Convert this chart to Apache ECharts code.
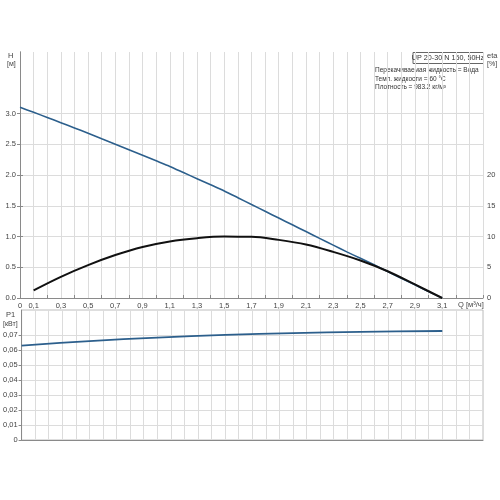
<!DOCTYPE html>
<html>
<head>
<meta charset="utf-8">
<script src="https://cdn.jsdelivr.net/npm/echarts@6/dist/echarts.min.js"></script>
<style>html,body{margin:0;padding:0;background:#fff}#c{width:500px;height:500px}</style>
</head>
<body>
<div id="c"></div>
<script>
// Flow Q [m³/h] for the head curve
const qH = [0, 0.1, 0.2, 0.3, 0.4, 0.5, 0.6, 0.7, 0.8, 0.9, 1.0, 1.1, 1.2, 1.3, 1.4, 1.5,
            1.6, 1.7, 1.8, 1.9, 2.0, 2.1, 2.2, 2.3, 2.4, 2.5, 2.6, 2.7, 2.8, 2.9, 3.0, 3.1];
// Head H [m]
const hVals = [3.10, 3.02, 2.935, 2.85, 2.765, 2.68, 2.59, 2.50, 2.41, 2.32, 2.23, 2.14, 2.04, 1.94, 1.84, 1.74,
               1.63, 1.52, 1.41, 1.30, 1.19, 1.08, 0.97, 0.86, 0.75, 0.645, 0.54, 0.43, 0.32, 0.215, 0.105, 0.0];

// Flow Q [m³/h] for the efficiency curve
const qEta = [0.1, 0.3, 0.5, 0.7, 0.9, 1.1, 1.3, 1.5, 1.7, 1.9, 2.1, 2.3, 2.5, 2.7, 2.9, 3.1];
// Efficiency eta [%]
const etaVals = [1.25, 3.45, 5.35, 6.98, 8.3, 9.2, 9.72, 9.98, 9.96, 9.45, 8.7, 7.5, 6.1, 4.35, 2.2, 0.0];

// Flow Q [m³/h] for the power curve
const qP = [0, 0.5, 1.0, 1.5, 2.0, 2.5, 3.1];
// Power P1 [kW]
const pVals = [0.0630, 0.0660, 0.0683, 0.0701, 0.0713, 0.0721, 0.0727];

// Tick labels
const xLabels = ['0', '0,1', '0,3', '0,5', '0,7', '0,9', '1,1', '1,3', '1,5', '1,7', '1,9', '2,1', '2,3', '2,5', '2,7', '2,9', '3,1'];
const hLabels = ['0.0', '0.5', '1.0', '1.5', '2.0', '2.5', '3.0'];
const etaLabels = ['0', '5', '10', '15', '20'];
const pLabels = ['0', '0,01', '0,02', '0,03', '0,04', '0,05', '0,06', '0,07'];

const FONT = 'Liberation Sans, Arial, sans-serif';
const LBL = {fontFamily: FONT, fontSize: 7.5, color: '#444'};
const GRID = {lineStyle: {color: '#dcdcdc', width: 1}};
const AXL = {show: true, lineStyle: {color: '#8a8a8a', width: 1}};
const TICK = {color: '#8a8a8a'};

function xFmt(v) {
  const k = Math.round(v * 10);
  const s = k === 0 ? '0' : (k / 10).toFixed(1).replace('.', ',');
  return xLabels.indexOf(s) >= 0 ? s : '';
}
function hFmt(v) { const s = v.toFixed(1); return hLabels.indexOf(s) >= 0 ? s : ''; }
function eFmt(v) { const s = String(Math.round(v)); return etaLabels.indexOf(s) >= 0 ? s : ''; }
function pFmt(v) {
  const k = Math.round(v * 100);
  const s = k === 0 ? '0' : (k / 100).toFixed(2).replace('.', ',');
  return pLabels.indexOf(s) >= 0 ? s : '';
}
const hTicks = hLabels.map(Number);
const eTicks = etaLabels.map(Number);
const pTicks = pLabels.map(s => Number(s.replace(',', '.')));

const chart = echarts.init(document.getElementById('c'), null, {renderer: 'canvas'});
chart.setOption({
  animation: false,
  backgroundColor: '#fff',
  grid: [
    {left: 20, right: 17, top: 52, height: 246},
    {left: 20, right: 17, top: 310, height: 130, show: true, borderColor: '#bdbdbd', borderWidth: 1}
  ],
  xAxis: [
    {type: 'value', gridIndex: 0, min: 0, max: 3.4, interval: 0.1,
     axisLine: AXL, axisTick: {show: false}, splitLine: GRID,
     axisLabel: Object.assign({formatter: xFmt, margin: 4, hideOverlap: false}, LBL)},
    {type: 'value', gridIndex: 1, min: 0, max: 3.4, interval: 0.1,
     axisLine: AXL, axisTick: {show: false}, splitLine: GRID, axisLabel: {show: false}},
    {type: 'value', gridIndex: 0, min: 0, max: 3.4, interval: 0.2,
     axisLine: {show: false}, axisTick: {show: true, length: 3, lineStyle: TICK},
     splitLine: {show: false}, axisLabel: {show: false}}
  ],
  yAxis: [
    {type: 'value', gridIndex: 0, min: 0, max: 4, interval: 0.5, position: 'left',
     axisLine: AXL, axisTick: {show: true, length: 3, lineStyle: TICK, customValues: hTicks}, splitLine: GRID,
     axisLabel: Object.assign({formatter: hFmt, margin: 4}, LBL)},
    {type: 'value', gridIndex: 0, min: 0, max: 40, interval: 5, position: 'right',
     axisLine: AXL, axisTick: {show: true, length: 3, lineStyle: TICK, customValues: eTicks}, splitLine: {show: false},
     axisLabel: Object.assign({formatter: eFmt, margin: 4}, LBL)},
    {type: 'value', gridIndex: 1, min: 0, max: 0.0867, interval: 0.01, position: 'left',
     axisLine: AXL, axisTick: {show: true, length: 3, lineStyle: TICK, customValues: pTicks}, splitLine: GRID,
     axisLabel: Object.assign({formatter: pFmt, margin: 4}, LBL)}
  ],
  series: [
    {name: 'H', type: 'line', xAxisIndex: 0, yAxisIndex: 0, smooth: 0.2, symbol: 'none',
     data: qH.map((q, i) => [q, hVals[i]]), lineStyle: {color: '#2c5f8c', width: 1.6}},
    {name: 'eta', type: 'line', xAxisIndex: 0, yAxisIndex: 1, smooth: 0.35, symbol: 'none',
     data: qEta.map((q, i) => [q, etaVals[i]]), lineStyle: {color: '#111', width: 2}},
    {name: 'P1', type: 'line', xAxisIndex: 1, yAxisIndex: 2, smooth: 0.3, symbol: 'none',
     data: qP.map((q, i) => [q, pVals[i]]), lineStyle: {color: '#2c5f8c', width: 1.8}}
  ],
  graphic: [
    {type: 'text', left: 8, top: 52, style: {text: 'H', font: '7.5px ' + FONT, fill: '#444'}},
    {type: 'text', left: 7, top: 61, style: {text: '[м]', font: '7px ' + FONT, fill: '#444'}},
    {type: 'text', left: 487, top: 52, style: {text: 'eta', font: '7.5px ' + FONT, fill: '#444'}},
    {type: 'text', left: 487, top: 61, style: {text: '[%]', font: '7px ' + FONT, fill: '#444'}},
    {type: 'text', left: 6, top: 311, style: {text: 'P1', font: '7.5px ' + FONT, fill: '#444'}},
    {type: 'text', left: 3, top: 321, style: {text: '[кВт]', font: '7px ' + FONT, fill: '#444'}},
    {type: 'text', left: 458, top: 301, style: {text: 'Q [м³/ч]', font: '7.5px ' + FONT, fill: '#444'}},
    {type: 'rect', shape: {x: 413, y: 52.5, width: 70.5, height: 11}, style: {fill: '#fff', stroke: '#666', lineWidth: 1}},
    {type: 'text', x: 448, y: 58.5, style: {text: 'UP 20-30 N 150, 50Hz', font: '7.2px ' + FONT, fill: '#333', textAlign: 'center', textVerticalAlign: 'middle'}},
    {type: 'text', x: 375, y: 66, style: {text: 'Перекачиваемая жидкость = Вода\nТемп. жидкости = 60 °C\nПлотность = 983.2 кг/м³', font: '6.5px ' + FONT, fill: '#333', lineHeight: 8.5}}
  ]
});
</script>
</body>
</html>
